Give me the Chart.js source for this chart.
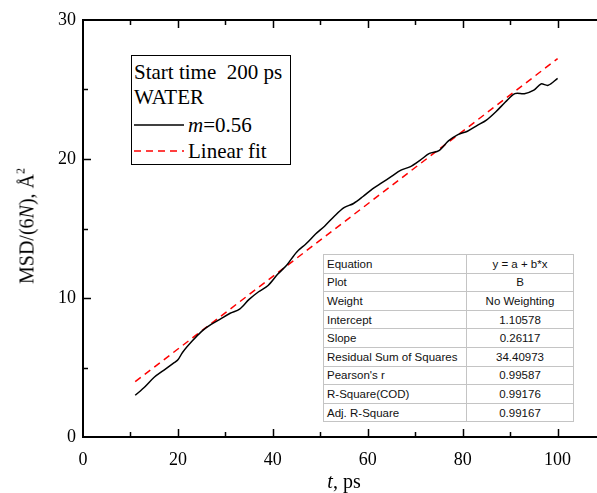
<!DOCTYPE html>
<html>
<head>
<meta charset="utf-8">
<script src="https://cdn.jsdelivr.net/npm/chart.js@4.4.1/dist/chart.umd.min.js"></script>
<style>
  html, body { margin: 0; padding: 0; background: #fff; }
  #wrap { position: relative; width: 597px; height: 493px; overflow: hidden; }
  canvas { display: block; }
  .serif { font-family: 'Liberation Serif', 'Times New Roman', serif; color: #000; }
  .legend { position: absolute; left: 131px; top: 55px; width: 158px; height: 108px; border: 1.5px solid #000; background: #fff; font-size: 21px; }
  .legend span { position: absolute; white-space: nowrap; line-height: 21px; }
  .legend svg { position: absolute; left: 1px; }
  .ytitle { position: absolute; left: 26px; top: 226px; transform: translate(-50%, -50%) rotate(-90deg); font-size: 20px; white-space: nowrap; }
  .xtitle { position: absolute; left: 344px; top: 481px; transform: translate(-50%, -50%); font-size: 20px; white-space: nowrap; }
  table.stats { position: absolute; left: 323px; top: 254px; width: 251px; border-collapse: collapse; border: 1.5px solid #444; background: #fff;
    font-family: 'Liberation Sans', Arial, sans-serif; font-size: 11.5px; color: #111; }
  table.stats td { border: 1px solid #c4c4c4; height: 17.6px; padding: 0 3px; line-height: 14px; }
  table.stats td.v { text-align: center; width: 100px; }
</style>
</head>
<body>
<div id="wrap">
  <canvas id="msdChart" width="597" height="493"></canvas>

  <div class="legend serif">
    <span style="left:2px; top:6px;">Start time&nbsp; 200 ps</span>
    <span style="left:2px; top:31px;">WATER</span>
    <svg width="52" height="4" style="top:67px;"><line x1="1" y1="2" x2="51" y2="2" stroke="#000" stroke-width="1.5"/></svg>
    <span style="left:56px; top:59px;"><i>m</i>=0.56</span>
    <svg width="52" height="4" style="top:93px;"><line x1="1" y1="2" x2="51" y2="2" stroke="#f00" stroke-width="1.5" stroke-dasharray="7,5"/></svg>
    <span style="left:56px; top:85px;">Linear fit</span>
  </div>

  <div class="ytitle serif">MSD/(6<i>N</i>), Å<sup style="font-size:12px; vertical-align:9px;">2</sup></div>
  <div class="xtitle serif"><i>t</i>, ps</div>

  <table class="stats" id="statsTable"></table>
</div>

<script>
// measured curve (t in ps, MSD/(6N) in Å^2)
const timePs = [11, 13, 15, 17, 19, 20, 21, 23, 25, 27, 29, 31, 33, 35, 37, 39, 41, 43, 45, 47,
  49, 51, 53, 55, 57, 59, 61, 63, 65, 67, 69, 71, 73, 75, 77, 79, 81, 83, 85, 87,
  89, 91, 93, 95, 96.5, 98, 100];
const msdValues = [3.0, 3.6, 4.3, 4.8, 5.3, 5.55, 6.1, 6.9, 7.6, 8.1, 8.5, 8.9, 9.2, 9.9, 10.45, 10.9, 11.7, 12.4, 13.3, 13.9,
  14.6, 15.2, 15.9, 16.5, 16.8, 17.3, 17.85, 18.3, 18.75, 19.2, 19.45, 19.9, 20.4, 20.6, 21.3, 21.75, 22.0, 22.4, 22.8, 23.4,
  24.1, 24.7, 24.7, 24.95, 25.4, 25.3, 25.8];

// linear fit end points
const fitTime = [11, 100];
const fitValues = [3.98, 27.22];

// fit report table
const statLabels = ['Equation', 'Plot', 'Weight', 'Intercept', 'Slope', 'Residual Sum of Squares', "Pearson's r", 'R-Square(COD)', 'Adj. R-Square'];
const statValues = ['y = a + b*x', 'B', 'No Weighting', '1.10578', '0.26117', '34.40973', '0.99587', '0.99176', '0.99167'];

const xTickLabels = [0, 20, 40, 60, 80, 100];
const yTickLabels = [0, 10, 20, 30];

function buildTable() {
  const table = document.getElementById('statsTable');
  statLabels.forEach((label, i) => {
    const tr = document.createElement('tr');
    tr.innerHTML = `<td>${label}</td><td class="v">${statValues[i]}</td>`;
    table.appendChild(tr);
  });
}

// inward major/minor ticks plus the top frame line
const frameTicks = {
  id: 'frameTicks',
  afterDraw(chart) {
    const { ctx, chartArea } = chart;
    const xs = chart.scales.x;
    const ys = chart.scales.y;
    ctx.save();
    ctx.strokeStyle = '#000';
    ctx.lineWidth = 2;
    ctx.beginPath();
    ctx.moveTo(chartArea.left - 1, chartArea.top);
    ctx.lineTo(chartArea.right, chartArea.top);
    ctx.stroke();

    ctx.lineWidth = 1.5;
    ctx.beginPath();
    for (let v = 10; v <= 100; v += 10) {
      const px = Math.round(xs.getPixelForValue(v)) + 0.5;
      const len = v % 20 === 0 ? 8 : 5;
      ctx.moveTo(px, chartArea.bottom);
      ctx.lineTo(px, chartArea.bottom - len);
      ctx.moveTo(px, chartArea.top);
      ctx.lineTo(px, chartArea.top + len);
    }
    for (let v = 5; v < 30; v += 5) {
      const py = Math.round(ys.getPixelForValue(v)) + 0.5;
      const len = v % 10 === 0 ? 8 : 5;
      ctx.moveTo(chartArea.left, py);
      ctx.lineTo(chartArea.left + len, py);
    }
    ctx.stroke();
    ctx.restore();
  },
};

const tickFont = { family: "'Liberation Serif', 'Times New Roman', serif", size: 18 };

buildTable();

new Chart(document.getElementById('msdChart'), {
  type: 'line',
  data: {
    datasets: [
      {
        label: 'm=0.56',
        data: timePs.map((t, i) => ({ x: t, y: msdValues[i] })),
        borderColor: '#000',
        borderWidth: 1.5,
        pointRadius: 0,
        tension: 0.3,
      },
      {
        label: 'Linear fit',
        data: fitTime.map((t, i) => ({ x: t, y: fitValues[i] })),
        borderColor: '#ff0000',
        borderWidth: 1.5,
        borderDash: [7, 5],
        pointRadius: 0,
      },
    ],
  },
  options: {
    responsive: false,
    animation: false,
    layout: { padding: { top: 20, right: 0, bottom: 0, left: 0 } },
    plugins: {
      legend: { display: false },
      tooltip: { enabled: false },
    },
    scales: {
      x: {
        type: 'linear',
        min: 0,
        max: 108.3,
        grid: { display: false, drawTicks: false },
        border: { display: true, color: '#000', width: 2 },
        afterFit: scale => { scale.height = 56; },
        afterBuildTicks: scale => { scale.ticks = xTickLabels.map(v => ({ value: v })); },
        ticks: {
          color: '#000',
          font: tickFont,
          padding: 12,
          maxRotation: 0,
          autoSkip: false,
        },
      },
      y: {
        type: 'linear',
        min: 0,
        max: 30,
        grid: { display: false, drawTicks: false },
        border: { display: true, color: '#000', width: 2 },
        afterFit: scale => { scale.width = 83; },
        afterBuildTicks: scale => { scale.ticks = yTickLabels.map(v => ({ value: v })); },
        ticks: {
          color: '#000',
          font: tickFont,
          padding: 7,
        },
      },
    },
  },
  plugins: [frameTicks],
});
</script>
</body>
</html>
